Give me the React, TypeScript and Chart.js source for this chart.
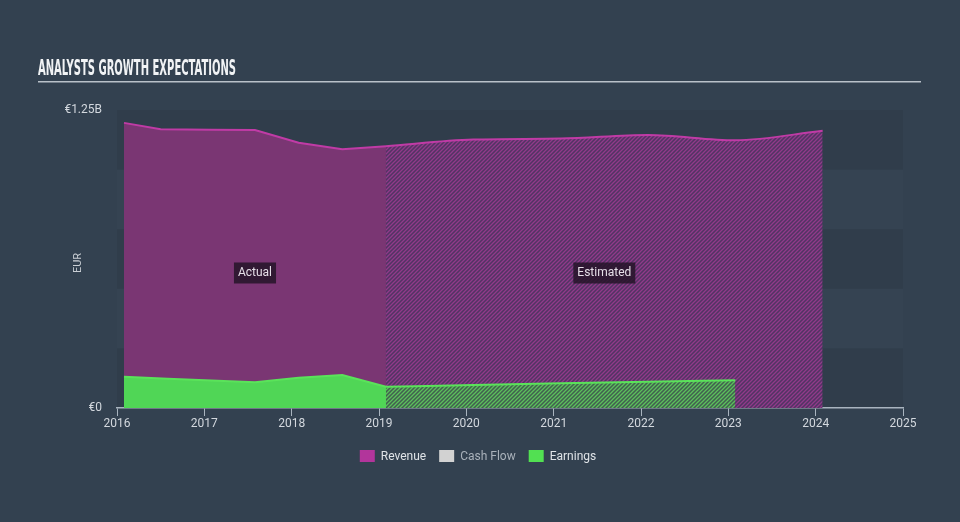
import React, { useEffect, useRef } from "react";
import { Chart, registerables } from "chart.js";

Chart.register(...registerables);

// ---- Data (values in EUR billions, x in fractional years) ----
const revenueActualX = [2016.08, 2016.5, 2017.08, 2017.58, 2018.08, 2018.58, 2019.08];
const revenueActual = [1.196, 1.169, 1.167, 1.166, 1.113, 1.085, 1.098];
const revenueEstX = [2019.08, 2020.08, 2021.08, 2022.08, 2023.08, 2024.08];
const revenueEst = [1.098, 1.126, 1.13, 1.145, 1.123, 1.163];

const earningsActualX = [2016.08, 2016.58, 2017.08, 2017.58, 2018.08, 2018.58, 2019.08];
const earningsActual = [0.131, 0.123, 0.115, 0.108, 0.127, 0.138, 0.089];
const earningsEstX = [2019.08, 2020.08, 2021.08, 2022.08, 2023.08];
const earningsEst = [0.089, 0.0965, 0.1035, 0.11, 0.116];

const xTickYears = [2016, 2017, 2018, 2019, 2020, 2021, 2022, 2023, 2024, 2025];
const yTickValues = [0, 1.25e9];
const yBandStep = 0.25e9;

const legendItems = ["Revenue", "Cash Flow", "Earnings"];
const legendColors = ["#b2359b", "#d2d2d2", "#52e052"];
const legendTextColors = ["#dfe3e7", "#a9b1ba", "#dfe3e7"];

const TITLE = "ANALYSTS GROWTH EXPECTATIONS";
const BG = "#334150";
const FONT = "Roboto, 'Open Sans', sans-serif";

function pts(xs: number[], ys: number[]) {
  return xs.map((x, i) => ({ x, y: ys[i] * 1e9 }));
}

function makePattern(bg: string, stripe: string) {
  const c = document.createElement("canvas");
  const s = 4;
  c.width = s;
  c.height = s;
  const ctx = c.getContext("2d")!;
  ctx.fillStyle = bg;
  ctx.fillRect(0, 0, s, s);
  ctx.strokeStyle = stripe;
  ctx.lineWidth = 1.3;
  ctx.beginPath();
  ctx.moveTo(-1, s + 1);
  ctx.lineTo(s + 1, -1);
  ctx.moveTo(-1, 1);
  ctx.lineTo(1, -1);
  ctx.moveTo(s - 1, s + 1);
  ctx.lineTo(s + 1, s - 1);
  ctx.stroke();
  return ctx.createPattern(c, "repeat")!;
}

function fmtEur(v: number) {
  if (v === 0) return "€0";
  return "€" + (v / 1e9).toFixed(2) + "B";
}

export default function App() {
  const ref = useRef<HTMLCanvasElement>(null);

  useEffect(() => {
    const canvas = ref.current!;
    const revPattern = makePattern("#513463", "#913a8a");
    const earnPattern = makePattern("#41604f", "#5cc05c");

    const decor = {
      id: "decor",
      beforeDraw(chart: any) {
        const ctx = chart.ctx;
        const { left, right } = chart.chartArea;
        const y = chart.scales.y;
        ctx.save();
        ctx.fillStyle = BG;
        ctx.fillRect(0, 0, chart.width, chart.height);
        // bands
        let i = 0;
        for (let v = 0; v < y.max - 1; v += yBandStep) {
          const yb = y.getPixelForValue(v);
          const yt = y.getPixelForValue(v + yBandStep);
          ctx.fillStyle = i % 2 === 0 ? "rgba(0,0,0,0.05)" : "rgba(255,255,255,0.01)";
          ctx.fillRect(left, yt, right - left, yb - yt);
          i++;
        }
        // title
        ctx.fillStyle = "#f1f3f5";
        ctx.font = "bold 21px 'DejaVu Sans Condensed', 'DejaVu Sans', sans-serif";
        ctx.textBaseline = "alphabetic";
        const w = ctx.measureText(TITLE).width;
        ctx.translate(38, 75);
        ctx.scale(198 / w, 1);
        ctx.fillText(TITLE, 0, 0);
        ctx.restore();
        ctx.save();
        ctx.fillStyle = "#b9c1c9";
        ctx.fillRect(38, 81, 883, 1.5);
        // EUR title
        ctx.translate(78, 263);
        ctx.rotate(-Math.PI / 2);
        ctx.fillStyle = "#c9ced4";
        ctx.font = "11px " + FONT;
        ctx.textAlign = "center";
        ctx.textBaseline = "middle";
        ctx.fillText("EUR", 0, 0);
        ctx.restore();
      },
      afterDatasetsDraw(chart: any) {
        const ctx = chart.ctx;
        const x = chart.scales.x;
        const y = chart.scales.y;
        const allRev = revenueActual.concat(revenueEst);
        const avg = allRev.reduce((a, b) => a + b, 0) / allRev.length;
        const cy = (y.getPixelForValue(0) + y.getPixelForValue(avg * 1e9)) / 2;
        const labels = [
          { t: "Actual", cx: (x.getPixelForValue(revenueActualX[0]) + x.getPixelForValue(revenueActualX[revenueActualX.length - 1])) / 2 },
          { t: "Estimated", cx: (x.getPixelForValue(revenueEstX[0]) + x.getPixelForValue(revenueEstX[revenueEstX.length - 1])) / 2 },
        ];
        ctx.save();
        ctx.font = "12px " + FONT;
        ctx.textAlign = "center";
        ctx.textBaseline = "middle";
        for (const l of labels) {
          const w = ctx.measureText(l.t).width + 8;
          ctx.fillStyle = "rgba(36,20,40,0.85)";
          ctx.fillRect(l.cx - w / 2, cy - 10, w, 21);
          ctx.fillStyle = "#e6dfe8";
          ctx.fillText(l.t, l.cx, cy + 1);
        }
        ctx.restore();
      },
      afterDraw(chart: any) {
        const ctx = chart.ctx;
        ctx.save();
        ctx.font = "12px " + FONT;
        ctx.textBaseline = "middle";
        const box = 15, gapBoxText = 6, gapItems = 13;
        const widths = legendItems.map((t) => box + gapBoxText + ctx.measureText(t).width);
        const total = widths.reduce((a, b) => a + b, 0) + gapItems * (legendItems.length - 1);
        let xx = 478 - total / 2;
        const cy = 456;
        legendItems.forEach((t, i) => {
          ctx.fillStyle = legendColors[i];
          ctx.fillRect(xx, cy - 6, box, 12);
          ctx.fillStyle = legendTextColors[i];
          ctx.fillText(t, xx + box + gapBoxText, cy + 0.5);
          xx += widths[i] + gapItems;
        });
        ctx.restore();
      },
    };

    const chart = new Chart(canvas, {
      type: "line",
      data: {
        datasets: [
          {
            label: "Earnings",
            data: pts(earningsActualX, earningsActual),
            borderColor: "#5ae35a",
            backgroundColor: "#50d656",
            borderWidth: 2,
            fill: "origin",
            pointRadius: 0,
            tension: 0,
            order: 0,
          },
          {
            label: "Earnings (est.)",
            data: pts(earningsEstX, earningsEst),
            borderColor: "#5ae35a",
            backgroundColor: earnPattern,
            borderWidth: 2,
            fill: "origin",
            pointRadius: 0,
            cubicInterpolationMode: "monotone",
            order: 1,
          },
          {
            label: "Revenue",
            data: pts(revenueActualX, revenueActual),
            borderColor: "#c03ba6",
            backgroundColor: "#7a3673",
            borderWidth: 2,
            fill: "origin",
            pointRadius: 0,
            tension: 0,
            order: 2,
          },
          {
            label: "Revenue (est.)",
            data: pts(revenueEstX, revenueEst),
            borderColor: "#c03ba6",
            backgroundColor: revPattern,
            borderWidth: 2,
            fill: "origin",
            pointRadius: 0,
            cubicInterpolationMode: "monotone",
            order: 3,
          },
        ] as any,
      },
      options: {
        animation: false,
        responsive: false,
        devicePixelRatio: 1,
        layout: { padding: { top: 110, left: 0, right: 57, bottom: 0 } },
        plugins: { legend: { display: false }, tooltip: { enabled: false } },
        scales: {
          x: {
            type: "linear",
            min: xTickYears[0],
            max: xTickYears[xTickYears.length - 1],
            afterBuildTicks: (s: any) => {
              s.ticks = xTickYears.map((v) => ({ value: v }));
            },
            afterFit: (s: any) => {
              s.height = 114;
            },
            ticks: {
              color: "#d3d8de",
              font: { size: 12, family: FONT },
              padding: 1,
              callback: (v: any) => String(v),
              maxRotation: 0,
            },
            grid: { drawOnChartArea: false, drawTicks: true, tickLength: 8, color: "#a9b4bf", lineWidth: 1 },
            border: { display: true, color: "#a9b4bf", width: 1.5 },
          },
          y: {
            min: 0,
            max: yTickValues[yTickValues.length - 1],
            afterBuildTicks: (s: any) => {
              s.ticks = yTickValues.map((v) => ({ value: v }));
            },
            afterFit: (s: any) => {
              s.width = 117;
            },
            ticks: {
              color: "#d3d8de",
              font: { size: 12, family: FONT },
              padding: 15,
              callback: (v: any) => fmtEur(Number(v)),
            },
            grid: { display: false, drawTicks: false },
            border: { display: false },
          },
        },
      },
      plugins: [decor],
    });
    return () => chart.destroy();
  }, []);

  return (
    <div style={{ position: "absolute", left: 0, top: 0, width: 960, height: 522, background: BG }}>
      <canvas ref={ref} width={960} height={522} style={{ display: "block", width: 960, height: 522 }} />
    </div>
  );
}
